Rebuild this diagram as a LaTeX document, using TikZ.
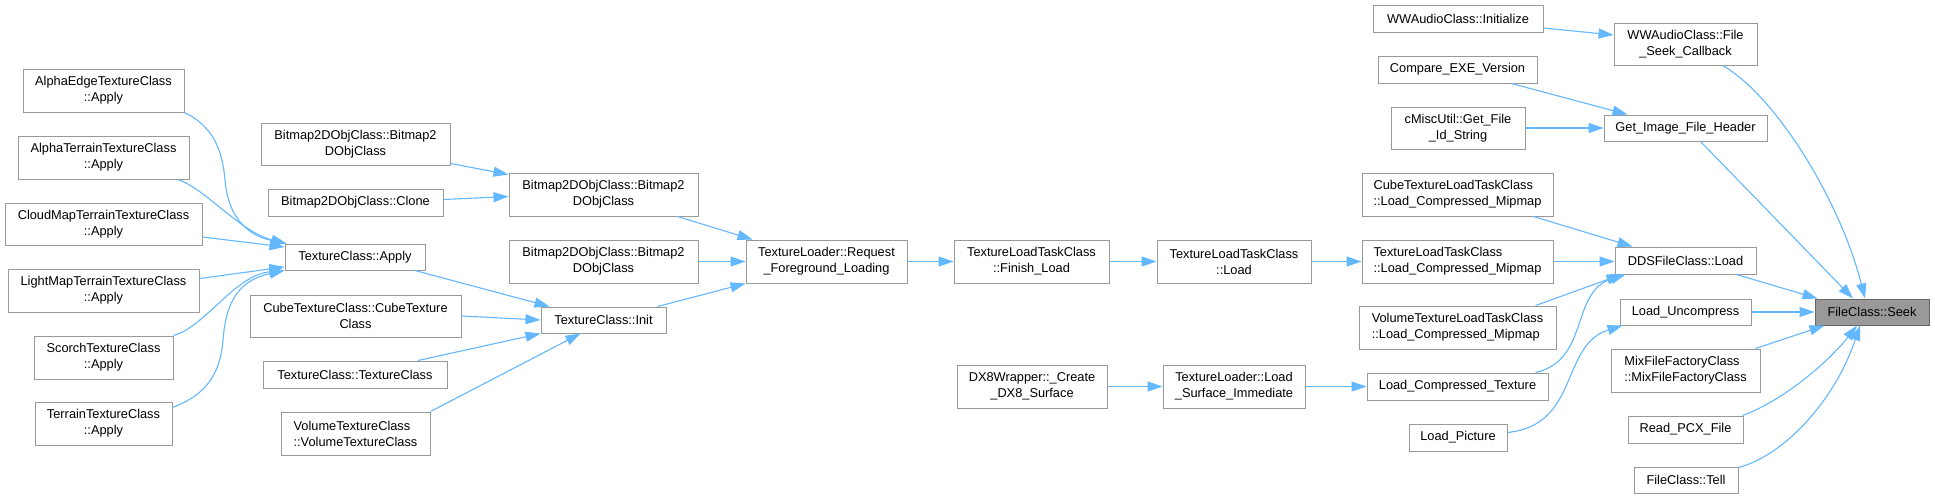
\documentclass[tikz,border=0pt]{standalone}
\usepackage{fontspec}
\setmainfont{Liberation Sans}
\usetikzlibrary{arrows.meta}
\definecolor{edgeblue}{HTML}{63B8FF}
\definecolor{boxgray}{HTML}{999999}
\definecolor{hlborder}{HTML}{666666}
\begin{document}
\begin{tikzpicture}[x=1pt,y=-1pt,
  box/.style={draw=boxgray, fill=white, line width=1pt, inner sep=0pt, align=center, text=black,
    font=\fontsize{12.8}{16}\selectfont},
  lbox/.style={box, align=left},
  hl/.style={box, fill=boxgray, draw=hlborder},
  link/.style={draw=edgeblue, line width=1.1pt, -{Triangle[length=15pt,width=10pt]}}]
\useasboundingbox (0,0) rectangle (1935,499);
\fill[white] (0,0) rectangle (1935,499);

% column A
\node[box,minimum width=161pt,minimum height=43pt] (A1) at (103.5,90.5) {AlphaEdgeTextureClass\\::Apply};
\node[box,minimum width=171pt,minimum height=43pt] (A2) at (103.5,157.5) {AlphaTerrainTextureClass\\::Apply};
\node[box,minimum width=197pt,minimum height=42pt] (A3) at (103.5,224) {CloudMapTerrainTextureClass\\::Apply};
\node[box,minimum width=191pt,minimum height=43pt] (A4) at (103.5,290.5) {LightMapTerrainTextureClass\\::Apply};
\node[box,minimum width=139pt,minimum height=43pt] (A5) at (103.5,357.5) {ScorchTextureClass\\::Apply};
\node[box,minimum width=137pt,minimum height=43pt] (A6) at (103.5,423.5) {TerrainTextureClass\\::Apply};

% column B
\node[box,minimum width=189pt,minimum height=42pt] (B1) at (355.5,144) {Bitmap2DObjClass::Bitmap2\\DObjClass};
\node[box,minimum width=175pt,minimum height=27pt] (B2) at (355.5,202.5) {Bitmap2DObjClass::Clone};
\node[box,minimum width=140pt,minimum height=26pt] (B3) at (355,257) {TextureClass::Apply};
\node[box,minimum width=211pt,minimum height=42pt] (B4) at (355.5,316) {CubeTextureClass::CubeTexture\\Class};
\node[box,minimum width=184pt,minimum height=27pt] (B5) at (355,374.5) {TextureClass::TextureClass};
\node[lbox,minimum width=149pt,minimum height=43pt] (B6) at (355.5,433.5) {VolumeTextureClass\\::VolumeTextureClass};

% column C
\node[box,minimum width=189pt,minimum height=43pt] (C1) at (603.5,194.5) {Bitmap2DObjClass::Bitmap2\\DObjClass};
\node[box,minimum width=189pt,minimum height=43pt] (C2) at (603.5,261.5) {Bitmap2DObjClass::Bitmap2\\DObjClass};
\node[box,minimum width=125pt,minimum height=26pt] (C3) at (603.5,320) {TextureClass::Init};

% column D, E, F
\node[box,minimum width=161pt,minimum height=43pt] (D1) at (826.5,261.5) {TextureLoader::Request\\\_Foreground\_Loading};
\node[box,minimum width=155pt,minimum height=43pt] (E1) at (1031.5,261.5) {TextureLoadTaskClass\\::Finish\_Load};
\node[box,minimum width=150pt,minimum height=43pt] (E2) at (1032,386.5) {DX8Wrapper::\_Create\\\_DX8\_Surface};
\node[box,minimum width=154pt,minimum height=43pt] (F1) at (1234,261.5) {TextureLoadTaskClass\\::Load};
\node[box,minimum width=142pt,minimum height=43pt] (F2) at (1234,386.5) {TextureLoader::Load\\\_Surface\_Immediate};

% column G
\node[box,minimum width=170pt,minimum height=27pt] (G0) at (1458,18.5) {WWAudioClass::Initialize};
\node[box,minimum width=159pt,minimum height=27pt] (G1) at (1457.5,69.5) {Compare\_EXE\_Version};
\node[box,minimum width=134pt,minimum height=42pt] (G2) at (1458,128) {cMiscUtil::Get\_File\\\_Id\_String};
\node[lbox,minimum width=191pt,minimum height=43pt] (G3) at (1457.5,194.5) {CubeTextureLoadTaskClass\\::Load\_Compressed\_Mipmap};
\node[lbox,minimum width=191pt,minimum height=43pt] (G4) at (1457.5,261.5) {TextureLoadTaskClass\\::Load\_Compressed\_Mipmap};
\node[lbox,minimum width=197pt,minimum height=43pt] (G5) at (1457.5,327.5) {VolumeTextureLoadTaskClass\\::Load\_Compressed\_Mipmap};
\node[box,minimum width=181pt,minimum height=27pt] (G6) at (1457.5,386.5) {Load\_Compressed\_Texture};
\node[box,minimum width=98pt,minimum height=27pt] (G7) at (1458,437.5) {Load\_Picture};

% column H
\node[box,minimum width=143pt,minimum height=42pt] (H0) at (1685.5,44) {WWAudioClass::File\\\_Seek\_Callback};
\node[box,minimum width=163pt,minimum height=26pt] (H1) at (1685.5,128) {Get\_Image\_File\_Header};
\node[box,minimum width=141pt,minimum height=27pt] (H2) at (1685.5,260.5) {DDSFileClass::Load};
\node[box,minimum width=131pt,minimum height=26pt] (H3) at (1685.5,312) {Load\_Uncompress};
\node[lbox,minimum width=149pt,minimum height=43pt] (H4) at (1685.5,370.5) {MixFileFactoryClass\\::MixFileFactoryClass};
\node[box,minimum width=115pt,minimum height=27pt] (H5) at (1685.5,429.5) {Read\_PCX\_File};
\node[box,minimum width=104pt,minimum height=26pt] (H6) at (1686,480) {FileClass::Tell};

% target
\node[hl,minimum width=114pt,minimum height=26pt] (I) at (1872,312) {FileClass::Seek};

% edges into TextureClass::Apply
\draw[link] (A1.south east) .. controls (210,125) and (222,145) .. (225,180) .. controls (228,215) and (245,235) .. ([xshift=2pt]B3.north west);
\draw[link] ([xshift=-12pt]A2.south east) .. controls (205,188) and (240,232) .. ([xshift=2pt]B3.north west);
\draw[link] ([yshift=-13pt]A3.east) -- ([yshift=10pt]B3.west);
\draw[link] ([yshift=12pt]A4.east) -- ([yshift=-10pt]B3.west);
\draw[link] (A5.north east) .. controls (205,327) and (235,275) .. (B3.south west);
\draw[link] ([yshift=-6pt]A6.north east) .. controls (200,397) and (220,380) .. (223,340) .. controls (226,300) and (240,280) .. (B3.south west);

% edges into Bitmap2D / Init
\draw[link] ([yshift=2pt]B1.south east) -- ([yshift=-2pt]C1.north west);
\draw[link] ([yshift=3pt]B2.east) -- ([yshift=-2pt]C1.west);
\draw[link] ([xshift=60pt]B3.south) -- ([xshift=9pt]C3.north west);
\draw[link] (B4.east) -- (C3.west);
\draw[link] ([xshift=63pt]B5.north) -- (C3.south west);
\draw[link] (B6.north east) -- ([xshift=-23pt]C3.south);

% into Request_Foreground_Loading
\draw[link] ([xshift=74pt]C1.south) -- ([xshift=7pt]D1.north west);
\draw[link] (C2.east) -- (D1.west);
\draw[link] ([xshift=-9pt]C3.north east) -- (D1.south west);

% chain
\draw[link] (D1.east) -- (E1.west);
\draw[link] (E1.east) -- (F1.west);
\draw[link] (F1.east) -- (G4.west);
\draw[link] (E2.east) -- (F2.west);
\draw[link] (F2.east) -- (G6.west);

% into DDSFileClass::Load
\draw[link] ([xshift=-20pt]G3.south east) -- ([xshift=18pt]H2.north west);
\draw[link] (G4.east) -- (G4.east -| H2.west);
\draw[link] ([xshift=-21pt]G5.north east) -- ([xshift=7pt]H2.south west);
\draw[link] ([xshift=-13pt]G6.north east) .. controls (1590,360) and (1570,292) .. ([xshift=11pt]H2.south west);

% into Load_Uncompress
\draw[link] ([yshift=5pt]G7.east) .. controls (1580,425) and (1560,345) .. ([xshift=3pt]H3.south west);

% top right
\draw[link] ([yshift=-9.5pt]G0.east) -- ([yshift=9pt]H0.west);
\draw[link] ([xshift=54pt]G1.south) -- ([xshift=24pt]H1.north west);
\draw[link] (G2.east) -- (H1.west);

% into FileClass::Seek
\draw[link] ([xshift=37pt]H0.south) .. controls (1775,95) and (1840,200) .. ([xshift=-7pt]I.north);
\draw[link] ([xshift=15pt]H1.south) -- ([xshift=-19pt]I.north);
\draw[link] ([xshift=51pt]H2.south) -- ([xshift=3pt]I.north west);
\draw[link] (H3.east) -- (I.west);
\draw[link] ([xshift=-5pt]H4.north east) -- ([xshift=10pt]I.south west);
\draw[link] ([xshift=-1pt]H5.north east) .. controls (1785,400) and (1830,360) .. ([xshift=-15pt]I.south);
\draw[link] ([yshift=-1pt]H6.north east) .. controls (1785,455) and (1835,400) .. ([xshift=-12pt]I.south);
\end{tikzpicture}
\end{document}
